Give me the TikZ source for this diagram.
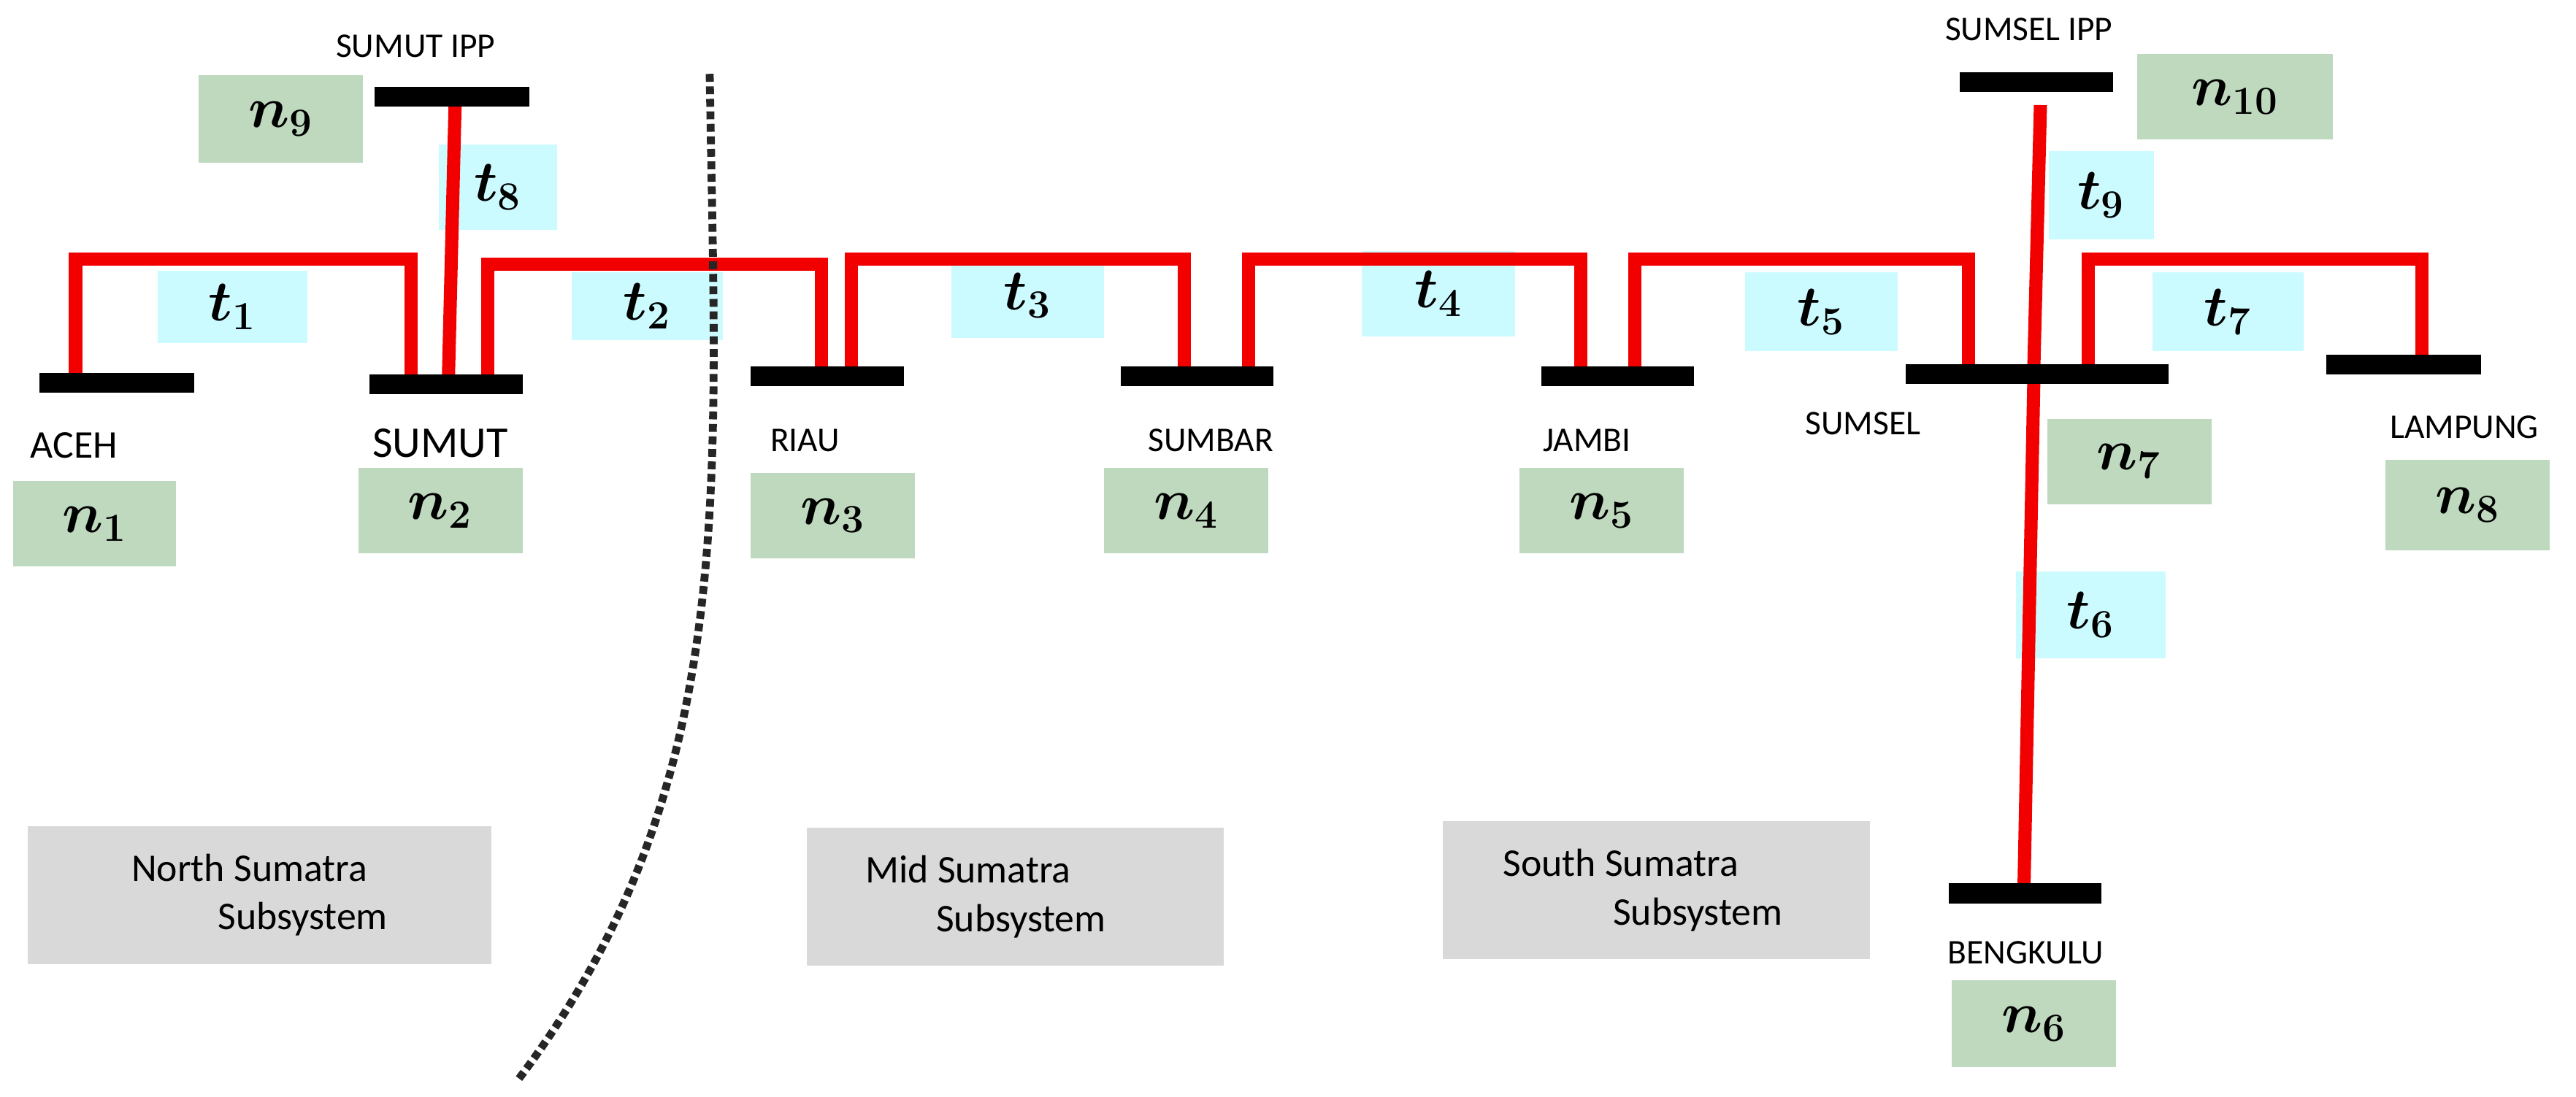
\documentclass[tikz,border=0pt]{standalone}
\usepackage{fontspec}
\usepackage{amsmath,bm}
\setmainfont{Carlito}
\begin{document}
\begin{tikzpicture}[x=0.025cm,y=-0.025cm,
 bus/.style={line width=0.3cm,black},
 line/.style={line width=0.2cm,red!95!black},
 tb/.style={fill=blue!8!cyan!20!white,draw=none},
 nb/.style={fill=green!40!black!25!white,draw=none},
 gb/.style={fill=black!15,draw=none},
 lbl/.style={font=\fontsize{15}{17}\selectfont},
 mth/.style={font=\fontsize{24}{26}\selectfont},
 sub/.style={font=\fontsize{17}{21}\selectfont,align=left}]
\useasboundingbox (0,0) rectangle (1568,668);
% boxes
\foreach \a/\b/\c/\d/\t in {96/165/187/209/1,348/166/440/207/2,579/154/672/206/3,829/153/922/205/4,1062/166/1155/214/5,1227/348/1318/401/6,1310/166/1402/214/7,267/88/339/140/8,1247/92/1311/146/9}
 {\fill[tb] (\a,\b) rectangle (\c,\d); \node[mth] (t\t) at ({(\a+\c)/2},{(\b+\d)/2}) {$\bm{t}_{\bm{\t}}$};}
\foreach \a/\b/\c/\d/\t in {8/293/107/345/1,218/285/318/337/2,457/288/557/340/3,672/285/772/337/4,925/285/1025/337/5,1188/597/1288/650/6,1246/255/1346/307/7,1452/280/1552/335/8,121/46/221/99/9,1301/33/1420/85/10}
 {\fill[nb] (\a,\b) rectangle (\c,\d); \node[mth] (n\t) at ({(\a+\c)/2},{(\b+\d)/2}) {$\bm{n}_{\bm{\t}}$};}
\fill[gb] (17,503) rectangle (299,587); \node[sub] (gn) at (158,545) {North Sumatra\\\hspace*{2.2em}Subsystem};
\fill[gb] (491,504) rectangle (745,588); \node[sub] (gm) at (600,546) {Mid Sumatra\\\hspace*{1.8em}Subsystem};
\fill[gb] (878,500) rectangle (1138,584); \node[sub] (gs) at (1000,542) {South Sumatra\\\hspace*{2.8em}Subsystem};
% red lines
\draw[line] (46,228) -- (46,158) -- (250,158) -- (250,228);
\draw[line] (277,64) -- (273,228);
\draw[line] (297,228) -- (297,161) -- (500,161) -- (500,224);
\draw[line] (518,224) -- (518,158) -- (721,158) -- (721,224);
\draw[line] (760,224) -- (760,158) -- (962,158) -- (962,224);
\draw[line] (995,224) -- (995,158) -- (1198,158) -- (1198,223);
\draw[line] (1271,223) -- (1271,158) -- (1474,158) -- (1474,217);
\draw[line] (1242,64) -- (1238,223);
\draw[line] (1238,230) -- (1232,540);
% buses
\draw[bus] (24,233) -- (118,233);
\draw[bus] (225,234) -- (318,234);
\draw[bus] (228,59) -- (322,59);
\draw[bus] (457,229) -- (550,229);
\draw[bus] (682,229) -- (775,229);
\draw[bus] (938,229) -- (1031,229);
\draw[bus] (1160,228) -- (1320,228);
\draw[bus] (1416,222) -- (1510,222);
\draw[bus] (1193,50) -- (1286,50);
\draw[bus] (1186,544) -- (1279,544);
% labels
\node[lbl,font=\fontsize{17}{19}\selectfont] (l1) at (45,271) {ACEH};
\node[lbl,font=\fontsize{19}{21}\selectfont] (l2) at (268,270) {SUMUT};
\node[lbl] (l3) at (253,28) {SUMUT IPP};
\node[lbl] (l4) at (490,268) {RIAU};
\node[lbl] (l5) at (737,268) {SUMBAR};
\node[lbl] (l6) at (966,268) {JAMBI};
\node[lbl] (l7) at (1134,258) {SUMSEL};
\node[lbl] (l8) at (1500,260) {LAMPUNG};
\node[lbl] (l9) at (1235,18) {SUMSEL IPP};
\node[lbl] (l10) at (1233,580) {BENGKULU};
% dotted divider
\draw[line width=0.12cm,dotted,black!85] (432,45) .. controls (436,300) and (450,480) .. (315,658);
\end{tikzpicture}
\end{document}
